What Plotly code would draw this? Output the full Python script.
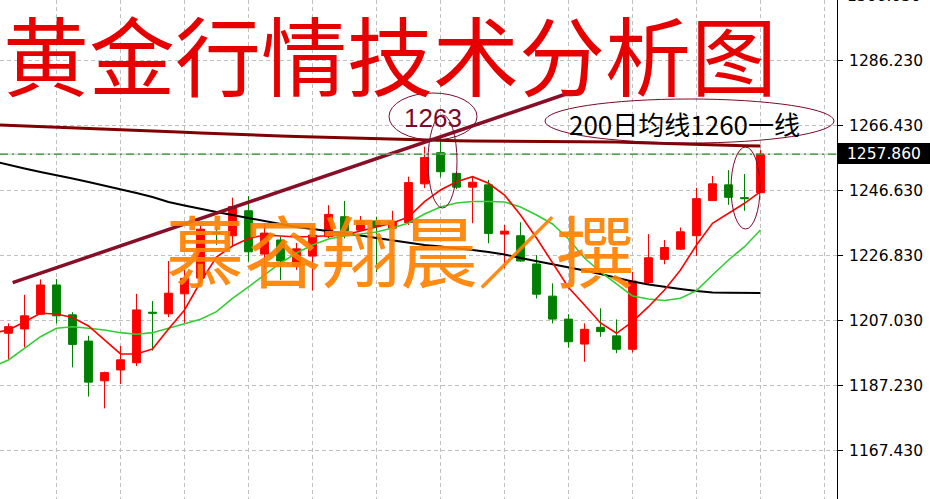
import plotly.graph_objects as go

# ---------------- data ----------------
idx = list(range(48))
opens = [1203.3, 1204.6, 1209.1, 1218.0, 1208.9, 1200.9, 1188.8, 1192.1, 1194.3, 1209.7,
         1209.2, 1215.3, 1220.1, 1234.0, 1233.0, 1240.6, 1227.4, 1231.7, 1223.8, 1226.8,
         1232.7, 1238.8, 1234.7, 1237.5, 1235.3, 1237.0, 1248.8, 1258.3, 1252.0, 1247.8,
         1248.5, 1233.5, 1233.0, 1224.4, 1214.6, 1207.6, 1200.0, 1205.1, 1202.5, 1198.4,
         1218.7, 1225.8, 1228.9, 1233.0, 1243.7, 1248.5, 1244.6, 1246.1]
highs = [1206.3, 1215.0, 1219.7, 1219.8, 1209.7, 1202.5, 1191.6, 1199.4, 1215.3, 1213.1,
         1225.3, 1222.6, 1236.3, 1235.8, 1244.6, 1245.1, 1236.9, 1232.7, 1230.8, 1235.7,
         1242.3, 1243.6, 1239.0, 1238.8, 1240.6, 1251.0, 1260.1, 1263.0, 1252.5, 1251.0,
         1250.0, 1236.3, 1237.1, 1227.1, 1218.5, 1209.1, 1206.3, 1210.9, 1207.5, 1222.0,
         1233.5, 1231.7, 1235.5, 1247.6, 1251.2, 1253.0, 1251.8, 1259.1]
lows = [1195.4, 1199.0, 1208.9, 1206.3, 1192.9, 1184.0, 1180.4, 1187.8, 1193.3, 1198.0,
        1208.2, 1206.5, 1218.6, 1230.2, 1229.7, 1225.1, 1223.1, 1219.5, 1222.6, 1216.3,
        1232.3, 1232.2, 1234.4, 1221.9, 1235.1, 1236.3, 1247.5, 1250.8, 1247.2, 1236.8,
        1230.7, 1223.1, 1225.1, 1213.9, 1206.3, 1198.9, 1194.6, 1202.2, 1197.2, 1197.4,
        1218.0, 1224.3, 1228.7, 1226.8, 1243.6, 1242.4, 1240.6, 1246.1]
closes = [1205.3, 1208.6, 1218.0, 1208.6, 1199.9, 1188.4, 1191.3, 1195.2, 1210.4, 1209.4,
          1215.5, 1220.0, 1235.0, 1233.6, 1241.9, 1228.1, 1233.8, 1225.3, 1229.0, 1233.2,
          1239.5, 1234.5, 1237.5, 1235.8, 1237.3, 1249.2, 1256.8, 1252.5, 1247.8, 1249.3,
          1233.7, 1234.4, 1225.3, 1215.2, 1207.6, 1200.7, 1204.5, 1203.8, 1198.4, 1219.2,
          1226.3, 1229.4, 1234.2, 1244.3, 1248.8, 1244.7, 1244.3, 1257.86]

ma_idx = list(range(-1, 48))
ma_fast = [1203.37, 1204.29, 1206.81, 1209.37, 1209.16, 1208.09, 1205.51, 1201.24, 1196.98, 1196.98,
           1198.50, 1204.59, 1210.38, 1218.91, 1226.52, 1229.87, 1232.16, 1233.23, 1232.92, 1232.62,
           1232.77, 1233.07, 1233.23, 1234.44, 1235.66, 1236.88, 1238.71, 1243.37, 1246.93, 1249.46,
           1250.98, 1248.97, 1245.41, 1239.32, 1232.31, 1224.70, 1217.23, 1211.90, 1206.42, 1203.28,
           1206.81, 1211.38, 1216.47, 1222.56, 1230.18, 1236.79, 1239.84, 1242.88, 1246.42]
ma_mid = [1193.02, 1195.15, 1198.71, 1202.25, 1204.80, 1205.29, 1204.80, 1204.29, 1203.47, 1202.98,
          1203.47, 1204.80, 1206.02, 1207.55, 1209.86, 1213.94, 1217.39, 1221.04, 1224.70, 1227.74,
          1230.18, 1232.01, 1232.92, 1233.53, 1234.14, 1235.36, 1236.88, 1239.62, 1241.75, 1242.97,
          1243.43, 1243.43, 1243.28, 1241.75, 1239.32, 1236.58, 1232.01, 1226.22, 1221.95, 1218.30,
          1214.64, 1213.73, 1213.27, 1213.94, 1216.26, 1221.04, 1225.61, 1229.66, 1234.75]
ma_slow = [1255.77, 1254.55, 1253.48, 1252.42, 1251.50, 1250.44, 1249.37, 1248.30, 1247.24, 1246.02,
           1244.80, 1243.28, 1242.21, 1241.15, 1240.23, 1239.32, 1238.40, 1237.49, 1236.58, 1235.66,
           1235.05, 1234.44, 1233.83, 1233.07, 1232.31, 1231.55, 1230.79, 1230.18, 1229.72, 1229.27,
           1228.66, 1228.05, 1227.29, 1226.22, 1225.31, 1224.39, 1223.48, 1222.41, 1221.35, 1220.13,
           1219.06, 1218.15, 1217.39, 1216.78, 1216.17, 1215.71, 1215.65, 1215.56, 1215.56]
ma200 = [1266.82, 1266.64, 1266.49, 1266.34, 1266.19, 1266.00, 1265.82, 1265.61, 1265.42, 1265.21,
         1264.97, 1264.75, 1264.54, 1264.30, 1264.08, 1263.90, 1263.69, 1263.53, 1263.38, 1263.26,
         1263.11, 1262.96, 1262.80, 1262.65, 1262.50, 1262.38, 1262.26, 1262.13, 1262.04, 1261.95,
         1261.89, 1261.86, 1261.86, 1261.86, 1261.86, 1261.83, 1261.80, 1261.74, 1261.68, 1261.55,
         1261.40, 1261.25, 1261.07, 1260.88, 1260.70, 1260.58, 1260.49, 1260.40, 1260.34]

trend_x = [0.26, 35.16]
trend_y = [1218.7, 1276.7]

y_ticks = [1167.43, 1187.23, 1207.03, 1226.83, 1246.63, 1266.43, 1286.23]
top_tick = 1306.03
last_price = 1257.86
high_mark = 1263
title_text = "黄金行情技术分析图"
author_text = "慕容翔晨／撰"
ma_note = "200日均线1260一线"

# ---------------- layout helpers ----------------
PW, PH = 837.0, 499.0


def px(x):
    return x / PW


def py(y):
    return 1 - y / PH


fig = go.Figure()

fig.add_trace(go.Candlestick(
    x=idx, open=opens, high=highs, low=lows, close=closes,
    increasing=dict(line=dict(color="#FF0000", width=1), fillcolor="#FF0000"),
    decreasing=dict(line=dict(color="#008000", width=1), fillcolor="#008000"),
    whiskerwidth=0, showlegend=False, hoverinfo="skip"))

fig.add_trace(go.Scatter(x=ma_idx, y=ma200, mode="lines",
                         line=dict(color="#800000", width=3), showlegend=False, hoverinfo="skip"))
fig.add_trace(go.Scatter(x=ma_idx, y=ma_slow, mode="lines",
                         line=dict(color="#000000", width=2), showlegend=False, hoverinfo="skip"))
fig.add_trace(go.Scatter(x=ma_idx, y=ma_mid, mode="lines",
                         line=dict(color="#32CD32", width=1.6), showlegend=False, hoverinfo="skip"))
fig.add_trace(go.Scatter(x=ma_idx, y=ma_fast, mode="lines",
                         line=dict(color="#FF0000", width=1.6), showlegend=False, hoverinfo="skip"))

shapes = [
    # trend line
    dict(type="line", xref="x", yref="y", x0=trend_x[0], y0=trend_y[0], x1=trend_x[1], y1=trend_y[1],
         line=dict(color="#860E26", width=3.5), layer="above"),
    # current price lines
    dict(type="line", xref="paper", yref="y", x0=0, x1=1, y0=last_price, y1=last_price,
         line=dict(color="#C0C0C0", width=1), layer="above"),
    dict(type="line", xref="paper", yref="y", x0=0, x1=1, y0=last_price, y1=last_price,
         line=dict(color="#008000", width=1, dash="8px,4px,2px,4px"), layer="above"),
    # price tag box
    dict(type="rect", xref="paper", yref="paper", x0=px(838), x1=px(932), y0=py(164), y1=py(143),
         fillcolor="#000000", line=dict(width=0), layer="above"),
    # ellipses
    dict(type="circle", xref="paper", yref="paper", x0=px(389), x1=px(477), y0=py(140), y1=py(93),
         line=dict(color="#7B0A2A", width=1), layer="above"),
    dict(type="circle", xref="paper", yref="paper", x0=px(428), x1=px(457), y0=py(208), y1=py(115),
         line=dict(color="#7B0A2A", width=1), layer="above"),
    dict(type="circle", xref="paper", yref="paper", x0=px(545), x1=px(834), y0=py(143), y1=py(99),
         line=dict(color="#7B0A2A", width=1), layer="above"),
    dict(type="circle", xref="paper", yref="paper", x0=px(731), x1=px(760), y0=py(229), y1=py(147),
         line=dict(color="#7B0A2A", width=1), layer="above"),
]

annotations = [
    dict(text=title_text, xref="paper", yref="paper", x=px(1), y=py(52), xanchor="left", yanchor="middle",
         showarrow=False, font=dict(family="Noto Sans CJK SC", size=86, color="#E60000")),
    dict(text=author_text, xref="paper", yref="paper", x=px(400), y=py(248), xanchor="center", yanchor="middle",
         showarrow=False, font=dict(family="Noto Sans CJK SC", size=78, color="rgba(255,128,0,0.92)")),
    dict(text=str(high_mark), xref="paper", yref="paper", x=px(433), y=py(118), xanchor="center", yanchor="middle",
         showarrow=False, font=dict(family="Liberation Sans", size=26, color="#7B0A2A")),
    dict(text=ma_note, xref="paper", yref="paper", x=px(684), y=py(123), xanchor="center", yanchor="middle",
         showarrow=False, font=dict(family="Noto Sans CJK SC", size=26, color="#000000")),
    dict(text=f"{last_price:.3f}", xref="paper", yref="paper", x=px(845), y=py(153.5), xanchor="left",
         yanchor="middle", showarrow=False, font=dict(family="DejaVu Sans", size=15.5, color="#FFFFFF")),
    dict(text=f"{top_tick:.3f}", xref="paper", yref="paper", x=px(845), y=py(-4), xanchor="left",
         yanchor="middle", showarrow=False, font=dict(family="DejaVu Sans", size=15.5, color="#000000")),
]

fig.update_layout(
    width=930, height=499,
    margin=dict(l=0, r=93, t=0, b=0, autoexpand=False),
    paper_bgcolor="white", plot_bgcolor="white",
    showlegend=False,
    shapes=shapes, annotations=annotations,
    xaxis=dict(range=[-0.531, 51.781], tickvals=list(range(3, 52, 4)), showticklabels=False,
               showgrid=True, gridcolor="#C0C0C0", griddash="4px,3px", gridwidth=1,
               zeroline=False, showline=False, ticks="", rangeslider=dict(visible=False), fixedrange=True),
    yaxis=dict(range=[1152.80, 1304.81], side="right", tickvals=y_ticks,
               ticktext=[f"{v:.3f}" for v in y_ticks],
               showgrid=True, gridcolor="#C0C0C0", griddash="4px,3px", gridwidth=1,
               zeroline=False, showline=True, linecolor="#000000", linewidth=1,
               ticks="outside", ticklen=5, tickcolor="#000000", ticklabelstandoff=3,
               tickfont=dict(family="DejaVu Sans", size=15.5, color="#000000"), fixedrange=True),
)

fig.write_html("out.html", config={"displayModeBar": False, "staticPlot": True},
               post_script="document.body.style.margin='0';document.body.style.overflow='hidden';")
